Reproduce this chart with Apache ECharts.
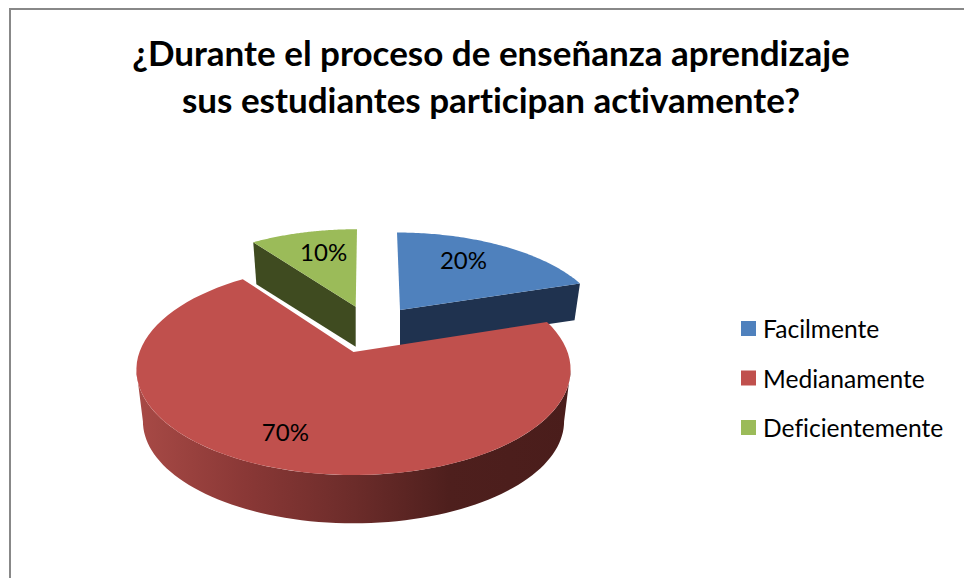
<!DOCTYPE html>
<html>
<head>
<meta charset="utf-8">
<style>html,body{margin:0;padding:0;background:#fff}#c{width:964px;height:578px}svg text{font-variant-ligatures:none;font-feature-settings:"liga" 0,"dlig" 0,"clig" 0}</style>
<script src="https://cdn.jsdelivr.net/npm/echarts@6/dist/echarts.min.js"></script>
</head>
<body>
<div id="c"></div>
<script>
var titleLines = ['¿Durante el proceso de enseñanza aprendizaje', 'sus estudiantes participan activamente?'];
var categories = ['Facilmente', 'Medianamente', 'Deficientemente'];
var values = [20, 70, 10];
var topColors = ['#4F81BD', '#C0504D', '#9BBB59'];
var wallColors = ['#1F324F', null, '#3F4B20'];

// Pie projection (layout only): a tilted disc seen in perspective
var RX = 214, RY = 102.3, PERSP = 0.1685;
var layouts = [
  {cx: 400, cy: 310, sx: 0.935, sy: 0.885, lean: 3, depth: 36, z: 1, lr: 0.7, ldx: -10, ldy: -4},
  {cx: 353.5, cy: 352, sx: 1, sy: 1, lean: 0, depth: 52, z: 3, lr: 0.7, ldx: -16, ldy: 3},
  {cx: 355.7, cy: 306.7, sx: 0.935, sy: 0.885, lean: -1.3, depth: 40, z: 2, lr: 0.7, ldx: 6, ldy: -1}
];
var total = values.reduce(function (a, b) { return a + b; }, 0);

function project(lay, angle, r, lower) {
  var u = r * Math.sin(angle), v = -r * Math.cos(angle);
  var s = 1 / (1 - PERSP * v);
  var f = lower ? 0.97 : 1;
  return [
    lay.cx + RX * lay.sx * u * s * f + lay.lean * v,
    lay.cy + RY * lay.sy * v * s * f + (lower ? lay.depth : 0)
  ];
}
function arc(lay, a0, a1, lower) {
  var pts = [], n = 80;
  for (var i = 0; i <= n; i++) {
    pts.push(project(lay, a0 + (a1 - a0) * i / n, 1, lower));
  }
  return pts;
}

function renderSlice(index) {
  return function () {
    var before = values.slice(0, index).reduce(function (a, b) { return a + b; }, 0);
    var a0 = before / total * Math.PI * 2;
    var a1 = (before + values[index]) / total * Math.PI * 2;
    var lay = layouts[index];
    var top = arc(lay, a0, a1, false);
    var apex = project(lay, 0, 0, false);
    var apexLow = project(lay, 0, 0, true);
    var children = [];
    if (index === 1) {
      // outer wall: only between the silhouette extremes of the disc
      var wR = Math.max(a0, Math.acos(-PERSP));
      var wL = Math.min(a1, Math.PI * 2 - Math.acos(-PERSP));
      children.push({
        type: 'polygon',
        shape: {points: arc(lay, wR, wL, false).concat(arc(lay, wR, wL, true).reverse())},
        style: {fill: {type: 'linear', x: 0, y: 0, x2: 1, y2: 0, colorStops: [
          {offset: 0, color: '#A84A46'},
          {offset: 0.25, color: '#8A3836'},
          {offset: 0.5, color: '#6C2C2A'},
          {offset: 0.72, color: '#4E1F1D'},
          {offset: 1, color: '#4A1D1B'}
        ]}}
      });
    } else {
      var edge = index === 0 ? a1 : a0;
      children.push({
        type: 'polygon',
        shape: {points: [apex, project(lay, edge, 1, false), project(lay, edge, 1, true), apexLow]},
        style: {fill: wallColors[index]}
      });
    }
    children.push({
      type: 'polygon',
      shape: {points: [apex].concat(top)},
      style: {fill: topColors[index]}
    });
    var mid = (a0 + a1) / 2;
    var lp = project(lay, mid, lay.lr, false);
    children.push({
      type: 'text',
      style: {
        x: lp[0] + lay.ldx, y: lp[1] + lay.ldy,
        text: Math.round(values[index] / total * 100) + '%',
        fill: '#000', font: '24px Lato', align: 'center', verticalAlign: 'middle'
      }
    });
    return {type: 'group', children: children};
  };
}

var chart = echarts.init(document.getElementById('c'), null, {renderer: 'svg'});
chart.setOption({
  animation: false,
  backgroundColor: '#fff',
  title: {
    text: titleLines.join('\n'),
    left: 486, top: 23, textAlign: 'center',
    textStyle: {fontFamily: 'Lato', fontWeight: 'bold', fontSize: 35, lineHeight: 47, color: '#000'}
  },
  legend: {
    orient: 'vertical', left: 736, top: 311,
    icon: 'rect', itemWidth: 15, itemHeight: 15, itemGap: 24.5,
    data: categories,
    textStyle: {fontFamily: 'Lato', fontSize: 24.6, lineHeight: 24, color: '#000', padding: [0, 0, 0, 2]},
    selectedMode: false
  },
  graphic: [{
    type: 'rect', silent: true,
    shape: {x: 10, y: 9, width: 1000, height: 1000},
    style: {fill: 'none', stroke: '#888888', lineWidth: 2}
  }],
  series: categories.map(function (name, i) {
    return {
      type: 'custom', name: name, coordinateSystem: 'none', silent: true,
      z: layouts[i].z + 2,
      itemStyle: {color: topColors[i]},
      data: [[values[i]]],
      renderItem: renderSlice(i)
    };
  })
});
</script>
</body>
</html>
